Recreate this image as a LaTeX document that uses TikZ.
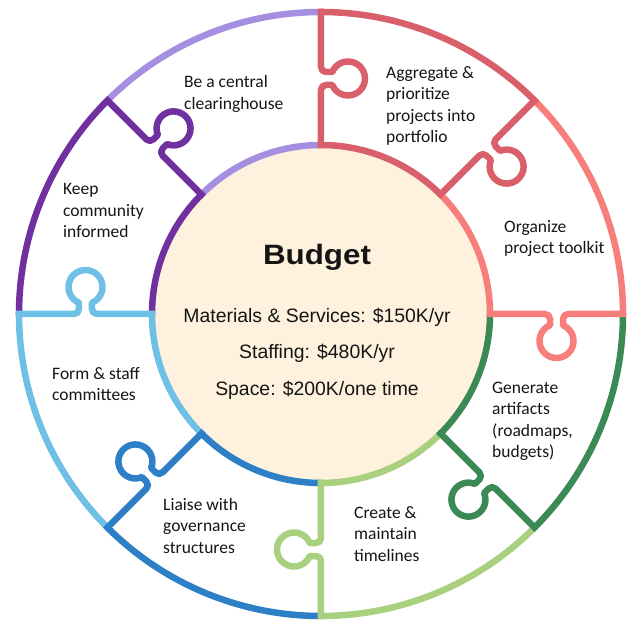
\documentclass[tikz,border=0pt]{standalone}
\usepackage{fontspec}
\setmainfont{Carlito}
\newfontfamily\arialfont{Liberation Sans}
\definecolor{cLav}{HTML}{A68FE0}
\definecolor{cPur}{HTML}{7030A0}
\definecolor{cRed}{HTML}{D95F6A}
\definecolor{cSal}{HTML}{F77F7B}
\definecolor{cDGr}{HTML}{3B8A55}
\definecolor{cLGr}{HTML}{A8D07E}
\definecolor{cBlu}{HTML}{2E80C6}
\definecolor{cLBl}{HTML}{6EC0E5}
\definecolor{cCream}{HTML}{FEF2DE}
\definecolor{txt}{HTML}{151515}
% seam between two puzzle pieces: #1 angle, #2 colour; knob turns clockwise
\newcommand{\puzzleseam}[2]{%
  \draw[seam,color=#2,rotate=#1] (169,0) -- (224,0)
    arc[start angle=90, end angle=0, radius=5] -- (229,-11.29)
    arc[start angle=112.5, end angle=427.5, radius=17] -- (242,-5)
    arc[start angle=180, end angle=90, radius=5] -- (302,0);}
\begin{document}
\begin{tikzpicture}[x=1pt,y=1pt,
  ring/.style={line width=6.5pt},
  seam/.style={line width=6.5pt, line cap=rect, line join=round},
  lbl/.style={anchor=base west, inner sep=0pt, text=txt,
              font=\fontsize{17.5}{21.5}\selectfont},
  mid/.style={anchor=base, inner sep=0pt, text=txt,
              font=\arialfont\fontsize{19.4}{23}\selectfont}]
\useasboundingbox (-321,-307) rectangle (311,314);
\node[circle, fill=cCream, minimum size=338pt, inner sep=0pt] (hub) at (0,0) {};
\foreach \a/\c in {90/cLav,45/cRed,0/cSal,-45/cDGr,-90/cLGr,-135/cBlu,180/cLBl,135/cPur}{
  \draw[ring,color=\c] (\a:302) arc[start angle=\a, end angle=\a+45, radius=302];
  \draw[ring,color=\c] (\a:169) arc[start angle=\a, end angle=\a+45, radius=169];
}
\puzzleseam{90}{cRed}
\puzzleseam{45}{cRed}
\puzzleseam{0}{cSal}
\puzzleseam{-45}{cDGr}
\puzzleseam{-90}{cLGr}
\puzzleseam{-135}{cBlu}
\puzzleseam{180}{cLBl}
\puzzleseam{135}{cPur}
% centre texts
\node[mid, font=\arialfont\bfseries\fontsize{28}{32}\selectfont] (title) at (-4,49) {\scalebox{1.12}[1]{Budget}};
\node[mid] (mat) at (-4,-9) {Materials \& Services: \$150K/yr};
\node[mid] (staff) at (-4,-45) {Staffing: \$480K/yr};
\node[mid] (space) at (-4,-81) {Space: \$200K/one time};
% piece labels
\node[lbl] (l1) at (-137,226) {\begin{tabular}[t]{@{}l@{}}Be a central\\clearinghouse\end{tabular}};
\node[lbl] (l2) at (65,235.5) {\begin{tabular}[t]{@{}l@{}}Aggregate \&\\prioritize\\projects into\\portfolio\end{tabular}};
\node[lbl] (l3) at (183,81.5) {\begin{tabular}[t]{@{}l@{}}Organize\\project toolkit\end{tabular}};
\node[lbl] (l4) at (171,-79) {\begin{tabular}[t]{@{}l@{}}Generate\\artifacts\\(roadmaps,\\budgets)\end{tabular}};
\node[lbl] (l5) at (33,-204) {\begin{tabular}[t]{@{}l@{}}Create \&\\maintain\\timelines\end{tabular}};
\node[lbl] (l6) at (-158,-196) {\begin{tabular}[t]{@{}l@{}}Liaise with\\governance\\structures\end{tabular}};
\node[lbl] (l7) at (-269,-65) {\begin{tabular}[t]{@{}l@{}}Form \& staff\\committees\end{tabular}};
\node[lbl] (l8) at (-258,119) {\begin{tabular}[t]{@{}l@{}}Keep\\community\\informed\end{tabular}};
\end{tikzpicture}
\end{document}
